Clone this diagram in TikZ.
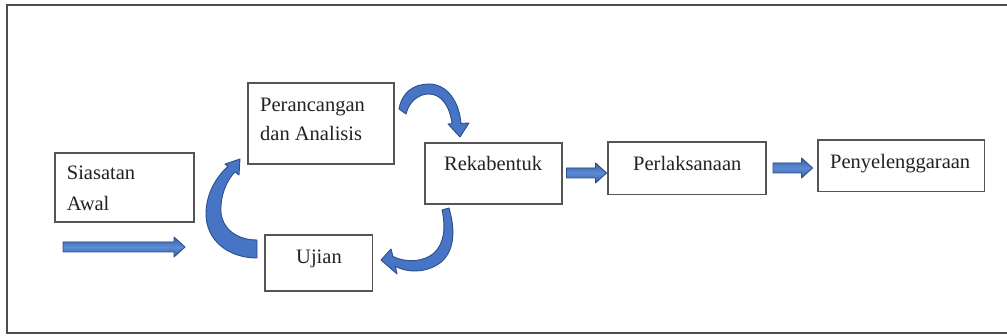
\documentclass[tikz,border=0pt]{standalone}
\usepackage{fontspec}
\setmainfont{Liberation Serif}
\usetikzlibrary{calc}
\definecolor{arrfill}{HTML}{4774C4}
\definecolor{arrlight}{HTML}{5A8AD8}
\definecolor{arrline}{HTML}{2B4F8E}
\definecolor{boxline}{HTML}{555555}
\definecolor{txt}{HTML}{222222}
\tikzset{
  box/.style={draw=boxline, line width=1.2pt, fill=white, inner sep=0pt},
  lbl/.style={anchor=base west, inner sep=0pt, text=txt, font=\fontsize{20.5pt}{30pt}\selectfont},
  barrow/.style={fill=arrfill, draw=arrline, line width=0.9pt, line join=round},
  sarrow/.style={barrow, top color=arrline!90, bottom color=arrline!90, middle color=arrlight},
}
\newcommand\blockarr[2]{\path let \p1=(#1), \p2=(#2) in
  [sarrow] (\x1,\y1-5pt) -- (\x2-11pt,\y1-5pt) -- (\x2-11pt,\y1-10pt) -- (\x2,\y1)
  -- (\x2-11pt,\y1+10pt) -- (\x2-11pt,\y1+5pt) -- (\x1,\y1+5pt) -- cycle;}
\begin{document}
\begin{tikzpicture}[x=1pt,y=-1pt]
\useasboundingbox (0,0) rectangle (1007,336);
% outer frame
\draw[line width=2pt, black!70] (1008,5) -- (7,5) -- (7,333.5) -- (1008,333.5);

% boxes
\node[box, minimum width=139pt, minimum height=69pt] (sia) at (124.5,187.5) {};
\node[box, minimum width=146pt, minimum height=81pt] (per) at (321,123.5) {};
\node[box, minimum width=137pt, minimum height=61pt] (rek) at (493.5,173.5) {};
\node[box, minimum width=107.5pt, minimum height=56pt] (ujn) at (318.75,263) {};
\node[box, minimum width=158pt, minimum height=52.5pt] (perl) at (687,168.25) {};
\node[box, minimum width=166.5pt, minimum height=51.7pt] (peny) at (901.25,165.85) {};

% texts
\node[lbl] (sia1) at (66.7,180) {Siasatan};
\node[lbl] (sia2) at (66.7,211) {Awal};
\node[lbl] (per1) at (260,111.7) {Perancangan};
\node[lbl] (per2) at (260,140.7) {dan Analisis};
\node[lbl] (rekt) at (444,171) {Rekabentuk};
\node[lbl] (ujnt) at (296,263.5) {Ujian};
\node[lbl] (perlt) at (633,170.7) {Perlaksanaan};
\node[lbl] (penyt) at (830,168.3) {Penyelenggaraan};

% straight block arrows
\coordinate (l1) at (63,247);
\coordinate (l2) at (185,247);
\coordinate (r1) at (566.5,173);
\coordinate (r2) at (606.5,173);
\coordinate (p1) at (773,168);
\coordinate (p2) at (812.5,168);
\blockarr{l1}{l2}
\blockarr{r1}{r2}
\blockarr{p1}{p2}

% curved arrow: Ujian -> Perancangan
\path[barrow] (257,240) -- (257,258)
  .. controls (228,258) and (206,240) .. (206,214)
  .. controls (206,194) and (216,177) .. (228,166.4)
  -- (225,164) -- (240,159) -- (239,175) -- (235,171.9)
  .. controls (226,181) and (220,197) .. (221,212)
  .. controls (222,228) and (236,240) .. (257,240) -- cycle;

% curved arrow: Perancangan -> Rekabentuk
\path[barrow] (399,109)
  .. controls (402,92) and (414,84) .. (429,84)
  .. controls (446,84) and (459,100) .. (461,123.4)
  -- (469,123) -- (460,137) -- (448,124) -- (452,123.8)
  .. controls (450,106) and (441,94) .. (429,94)
  .. controls (418,94) and (409,102) .. (406,114) -- cycle;

% curved arrow: Rekabentuk -> Ujian
\path[barrow] (449,208)
  .. controls (456,232) and (454,252) .. (440,263)
  .. controls (426,273) and (408,273) .. (395.4,266.4)
  -- (397,274) -- (381,260) -- (391,249) -- (393,256.5)
  .. controls (406,263) and (424,262) .. (434,253)
  .. controls (444,244) and (446,228) .. (442,210) -- cycle;
\end{tikzpicture}
\end{document}
